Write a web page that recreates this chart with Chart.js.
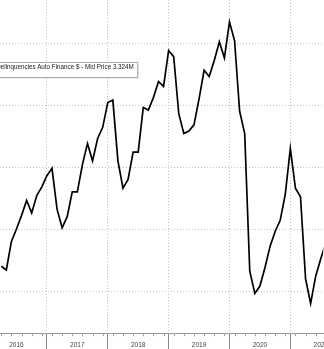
<!DOCTYPE html>
<html>
<head>
<meta charset="utf-8">
<script src="https://cdn.jsdelivr.net/npm/chart.js@4.4.0/dist/chart.umd.min.js"></script>
<style>
html, body { margin: 0; padding: 0; background: #fff; overflow: hidden; }
#wrap { position: relative; width: 324px; height: 349px; }
#legend {
  position: absolute; right: 186px; top: 62px; height: 14px; line-height: 14px;
  border: 1px solid #a9a9a9; background: #fff; padding: 0 4px 0 3px;
  font: 7px "Liberation Sans", sans-serif; color: #222; white-space: nowrap;
  box-shadow: 1px 1px 1px rgba(0,0,0,0.12); transform-origin: right center;
}
</style>
</head>
<body>
<div id="wrap">
  <canvas id="c" width="324" height="349"></canvas>
  <div id="legend"><span>D</span><span id="rest">elinquencies Auto Finance $ - Mid Price 3.324M</span></div>
</div>
<script>
// monthly readings, Apr 2016 .. Aug 2021 ($M)
var months = [
  '2016-04','2016-05','2016-06','2016-07','2016-08','2016-09','2016-10','2016-11','2016-12',
  '2017-01','2017-02','2017-03','2017-04','2017-05','2017-06','2017-07','2017-08','2017-09','2017-10','2017-11','2017-12',
  '2018-01','2018-02','2018-03','2018-04','2018-05','2018-06','2018-07','2018-08','2018-09','2018-10','2018-11','2018-12',
  '2019-01','2019-02','2019-03','2019-04','2019-05','2019-06','2019-07','2019-08','2019-09','2019-10','2019-11','2019-12',
  '2020-01','2020-02','2020-03','2020-04','2020-05','2020-06','2020-07','2020-08','2020-09','2020-10','2020-11','2020-12',
  '2021-01','2021-02','2021-03','2021-04','2021-05','2021-06','2021-07','2021-08'
];
var delinquencies = [
  3.20, 3.17, 3.40, 3.50, 3.61, 3.73, 3.63, 3.77, 3.84,
  3.93, 3.99, 3.66, 3.51, 3.60, 3.80, 3.80, 4.02, 4.19, 4.05, 4.23, 4.32,
  4.52, 4.54, 4.05, 3.83, 3.90, 4.12, 4.12, 4.48, 4.46, 4.56, 4.69, 4.65,
  4.94, 4.89, 4.43, 4.27, 4.29, 4.34, 4.55, 4.78, 4.73, 4.86, 5.01, 4.88,
  5.17, 5.02, 4.45, 4.27, 3.16, 2.98, 3.04, 3.19, 3.36, 3.48, 3.57, 3.78,
  4.15, 3.83, 3.76, 3.10, 2.90, 3.12, 3.26, 3.39
];
var yearLabels = ['2016', '2017', '2018', '2019', '2020', '2021'];
var gridValues = [3.0, 3.5, 4.0, 4.5, 5.0];

// month number counted from Jan 2016
function monthNo(s) {
  var p = s.split('-');
  return (parseInt(p[0], 10) - 2016) * 12 + parseInt(p[1], 10) - 1;
}

var points = months.map(function(m, i) {
  return { x: monthNo(m), y: delinquencies[i] };
});

var fontFamily = '"Liberation Sans", Arial, sans-serif';

// little bi-monthly marks under the axis line
var minorTicks = {
  id: 'minorTicks',
  afterDraw: function(chart) {
    var x = chart.scales.x, ctx = chart.ctx;
    ctx.save();
    ctx.strokeStyle = '#a0a0a0';
    ctx.lineWidth = 1;
    ctx.beginPath();
    for (var m = 1; m < 68; m += 2) {
      var px = Math.round(x.getPixelForValue(m)) + 0.5;
      if (px < 0 || px > chart.width) continue;
      ctx.moveTo(px, x.top);
      ctx.lineTo(px, x.top + 3);
    }
    ctx.stroke();
    ctx.restore();
  }
};

new Chart(document.getElementById('c'), {
  type: 'line',
  data: {
    datasets: [{
      data: points,
      borderColor: '#000',
      borderWidth: 1.7,
      pointRadius: 0,
      tension: 0,
      fill: false
    }]
  },
  options: {
    responsive: false,
    animation: false,
    devicePixelRatio: 1,
    layout: { padding: 0 },
    plugins: { legend: { display: false }, tooltip: { enabled: false } },
    scales: {
      x: {
        type: 'linear',
        min: 2.75,
        max: 66.49,
        afterBuildTicks: function(scale) {
          // one tick mid-year, grid offset puts the lines on the year boundaries
          scale.ticks = yearLabels.map(function(y, k) { return { value: 6 + 12 * k }; });
        },
        ticks: {
          autoSkip: false,
          maxRotation: 0,
          minRotation: 0,
          // long year ticks (16px) run past the labels: pull labels back up
          padding: -4,
          crossAlign: 'far',
          color: '#444',
          font: { family: fontFamily, size: 6.5 },
          callback: function(v) { return yearLabels[Math.round((v - 6) / 12)]; }
        },
        grid: {
          offset: true,
          color: '#c2c2c2',
          lineWidth: 1,
          tickLength: 16,
          tickColor: '#8a8a8a',
          tickBorderDash: []
        },
        border: { display: true, color: '#9a9a9a', width: 1, dash: [1, 2] }
      },
      y: {
        min: 2.66,
        max: 5.347,
        afterBuildTicks: function(scale) {
          scale.ticks = gridValues.map(function(v) { return { value: v }; });
        },
        ticks: { display: false },
        grid: { color: '#c2c2c2', lineWidth: 1, drawTicks: false, tickLength: 0 },
        border: { display: false, dash: [1, 2] }
      }
    }
  },
  plugins: [minorTicks]
});

// squeeze the legend text to the narrow terminal font width, leading "D" falls off the left edge
var rest = document.getElementById('rest');
var leg = document.getElementById('legend');
var w = rest.getBoundingClientRect().width;
leg.style.transform = 'scaleX(' + (133 / w) + ')';
</script>
</body>
</html>
